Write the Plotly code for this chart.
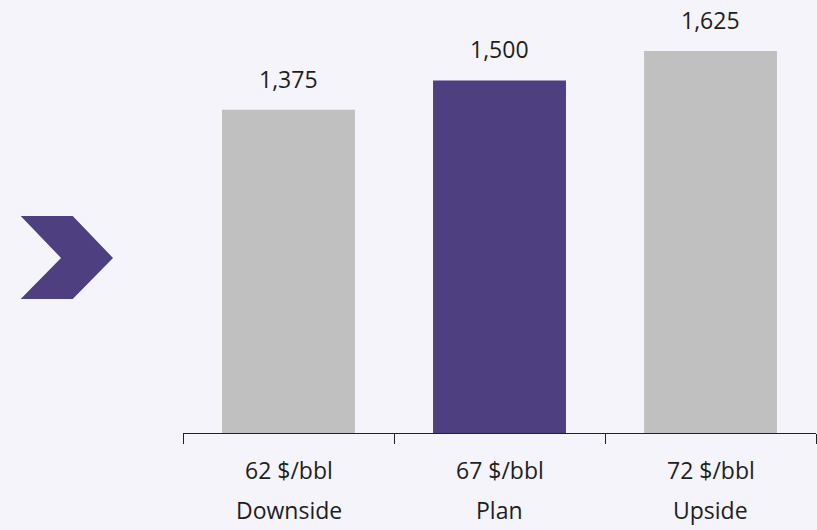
import plotly.graph_objects as go

categories = ["Downside", "Plan", "Upside"]
prices = ["62 $/bbl", "67 $/bbl", "72 $/bbl"]
values = [1375, 1500, 1625]
value_labels = ["1,375", "1,500", "1,625"]
colors = ["#c0c0c0", "#4e3f80", "#c0c0c0"]

BG = "#f5f4fa"
FONT = "Open Sans"
TXT = "#1e1e1e"
FS = 23

W, H = 817, 530
L, R, T, B = 183, 1, 0, 97
pw, ph = W - L - R, H - T - B

fig = go.Figure(go.Bar(
    x=categories, y=values, marker=dict(color=colors, line=dict(width=0)),
    hoverinfo="skip",
))

ann = []
for c, v, lab, p in zip(categories, values, value_labels, prices):
    ann.append(dict(x=c, y=v, xref="x", yref="y", text=lab, showarrow=False,
                    yanchor="bottom", yshift=13, font=dict(size=FS, color=TXT, family=FONT)))
    ann.append(dict(x=c, y=0, xref="x", yref="paper", text=p, showarrow=False,
                    yanchor="middle", yshift=-37, font=dict(size=FS, color=TXT, family=FONT)))
    ann.append(dict(x=c, y=0, xref="x", yref="paper", text=c, showarrow=False,
                    yanchor="middle", yshift=-77, font=dict(size=FS, color=TXT, family=FONT)))

def px2paper(px, py):
    return (px - L) / pw, (H - B - py) / ph

pts = [(20.7, 216), (72.7, 216), (113, 258), (72.7, 299), (20.7, 299), (61, 258)]
pp = [px2paper(x, y) for x, y in pts]
path = "M " + " L ".join(f"{x:.4f},{y:.4f}" for x, y in pp) + " Z"

fig.update_layout(
    width=W, height=H,
    margin=dict(l=L, r=R, t=T, b=B),
    paper_bgcolor=BG, plot_bgcolor=BG,
    bargap=0.37,
    showlegend=False,
    font=dict(family=FONT, size=FS, color=TXT),
    annotations=ann,
    shapes=[dict(type="path", xref="paper", yref="paper", path=path,
                 fillcolor="#4e3f80", line=dict(width=0), layer="above")],
    xaxis=dict(showticklabels=False, showline=True, linecolor="#222222", linewidth=1,
               ticks="outside", ticklen=10, tickwidth=1, tickcolor="#222222",
               tickson="boundaries", showgrid=False, zeroline=False,
               range=[-0.5, 2.5], fixedrange=True),
    yaxis=dict(visible=False, range=[0, 1842], showgrid=False, zeroline=False),
)

fig.write_html("out.html")
